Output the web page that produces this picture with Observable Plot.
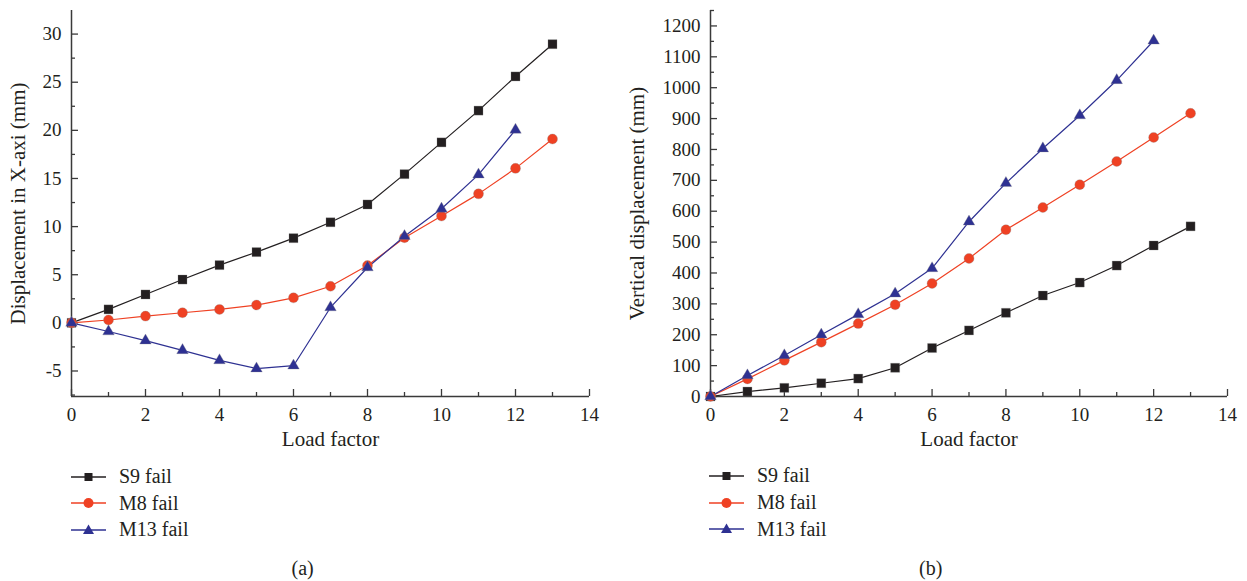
<!DOCTYPE html>
<html><head><meta charset="utf-8">
<script src="https://cdn.jsdelivr.net/npm/d3@7"></script>
<script src="https://cdn.jsdelivr.net/npm/@observablehq/plot@0.6"></script>
<style>
body{margin:0;background:#fff;}
#root{position:relative;width:1247px;height:581px;overflow:hidden;font-family:"Liberation Serif","Times New Roman",Tinos,"DejaVu Serif","Noto Serif",serif;color:#231f20;}
#root svg text{font-family:"Liberation Serif","Times New Roman",Tinos,"DejaVu Serif","Noto Serif",serif;}
.panel{position:absolute;top:0;}
.row{position:absolute;display:flex;align-items:center;font-size:20px;white-space:nowrap;height:26px;}
.row svg{display:block;margin-right:13px;}
.cap{position:absolute;font-size:20px;transform:translate(-50%,-50%);white-space:nowrap;}
</style></head><body><div id="root"></div>
<script>
// ---- data ----
const seriesNames = ["S9 fail", "M8 fail", "M13 fail"];
const seriesColors = ["#231f20", "#ef4123", "#2e3192"];
const seriesSymbols = ["square", "circle", "triangle"];
const loadFactor = [0,1,2,3,4,5,6,7,8,9,10,11,12,13];
// (a) displacement in X-axis (mm)
const s9X  = [0, 1.4, 2.95, 4.5, 6.0, 7.35, 8.8, 10.45, 12.3, 15.45, 18.75, 22.05, 25.6, 28.95];
const m8X  = [0, 0.3, 0.7, 1.05, 1.4, 1.85, 2.6, 3.8, 5.95, 8.85, 11.1, 13.4, 16.05, 19.1];
const m13X = [0, -0.9, -1.85, -2.85, -3.9, -4.75, -4.45, 1.6, 5.75, 9.0, 11.85, 15.4, 20.05];
// (b) vertical displacement (mm)
const s9V  = [0, 16, 28, 43, 58, 93, 157, 214, 271, 327, 369, 424, 489, 551];
const m8V  = [0, 57, 117, 176, 236, 297, 366, 447, 540, 612, 686, 761, 839, 917];
const m13V = [0, 68, 133, 200, 266, 333, 415, 566, 691, 803, 910, 1024, 1152];
// ticks
const xMajor = [0,2,4,6,8,10,12,14];
const xMinor = [1,3,5,7,9,11,13];
const yMajorA = [-5,0,5,10,15,20,25,30];
const yMinorA = [-7.5,-2.5,2.5,7.5,12.5,17.5,22.5,27.5];
const yMajorB = [0,100,200,300,400,500,600,700,800,900,1000,1100,1200];
const yMinorB = [50,150,250,350,450,550,650,750,850,950,1050,1150,1250];
const xLabel = "Load factor";
const yLabelA = "Displacement in X-axi (mm)";
const yLabelB = "Vertical displacement (mm)";
const xDomain = [0, 14];
const yDomainA = [-7.65, 32.45];
const yDomainB = [0, 1250];

function rowsOf(lists) {
  const out = [];
  lists.forEach((vals, i) => vals.forEach((v, j) => out.push({series: seriesNames[i], x: loadFactor[j], y: v})));
  return out;
}

const ink = "#231f20";
const axisInk = "#3a3a3a";
const serif = '"Liberation Serif","Times New Roman",Tinos,"DejaVu Serif","Noto Serif",serif';
const fmt = d => String(d);

function panel({rows, yDomain, yMajor, yMinor, yLabel, width, marginLeft, marginRight, yLabelDx}) {
  const dotR = {"S9 fail": 5.1, "M8 fail": 5, "M13 fail": 4.3};
  return Plot.plot({
    width, height: 450,
    marginLeft, marginRight, marginTop: 10, marginBottom: 54,
    style: {fontFamily: serif, fontSize: "19px", color: ink, background: "transparent", overflow: "visible"},
    x: {domain: xDomain, label: null},
    y: {domain: yDomain, label: null},
    color: {domain: seriesNames, range: seriesColors},
    symbol: {domain: seriesNames, range: seriesSymbols},
    marks: [
      Plot.axisX({ticks: xMajor, tickSize: 0, tickPadding: 11, tickFormat: fmt, label: null, fill: ink}),
      Plot.axisX({ticks: xMajor, tickSize: -7, tickFormat: () => "", label: null, stroke: axisInk, strokeWidth: 1.3}),
      Plot.axisX({ticks: xMinor, tickSize: -4, tickFormat: () => "", label: null, stroke: axisInk, strokeWidth: 1.3}),
      Plot.axisY({ticks: yMajor, tickSize: 0, tickPadding: 10, tickFormat: fmt, label: null, fill: ink}),
      Plot.axisY({ticks: yMajor, tickSize: -7, tickFormat: () => "", label: null, stroke: axisInk, strokeWidth: 1.3}),
      Plot.axisY({ticks: yMinor, tickSize: -4, tickFormat: () => "", label: null, stroke: axisInk, strokeWidth: 1.3}),
      Plot.ruleY([yDomain[0]], {stroke: axisInk, strokeWidth: 1.5}),
      Plot.ruleX([xDomain[0]], {stroke: axisInk, strokeWidth: 1.5}),
      Plot.text([xLabel], {frameAnchor: "bottom", dy: 49, fontSize: 21, fill: ink, textAnchor: "middle"}),
      Plot.text([yLabel], {frameAnchor: "left", dx: yLabelDx, rotate: -90, fontSize: 21, fill: ink, textAnchor: "middle", lineAnchor: "middle"}),
      Plot.line(rows, {x: "x", y: "y", z: "series", stroke: "series", strokeWidth: 1.2}),
      ...seriesNames.map(s => Plot.dot(rows, {filter: d => d.series === s, x: "x", y: "y", symbol: "series", fill: "series", stroke: "#888", strokeWidth: 0.3, r: dotR[s]}))
    ]
  });
}

const root = document.getElementById("root");

const left = panel({rows: rowsOf([s9X, m8X, m13X]), yDomain: yDomainA, yMajor: yMajorA, yMinor: yMinorA, yLabel: yLabelA,
  width: 620, marginLeft: 71, marginRight: 31, yLabelDx: -53});
left.classList.add("panel"); left.style.left = "0px";
root.appendChild(left);

const right = panel({rows: rowsOf([s9V, m8V, m13V]), yDomain: yDomainB, yMajor: yMajorB, yMinor: yMinorB, yLabel: yLabelB,
  width: 627, marginLeft: 90, marginRight: 20, yLabelDx: -73});
right.classList.add("panel"); right.style.left = "620px";
root.appendChild(right);

function swatch(i) {
  const c = seriesColors[i];
  let m;
  if (seriesSymbols[i] === "square") m = `<rect x="13.5" y="3" width="8" height="8" fill="${c}"/>`;
  else if (seriesSymbols[i] === "circle") m = `<circle cx="17.5" cy="7" r="5" fill="${c}"/>`;
  else m = `<path d="M17.5,1.5 L23,11 L12,11 Z" fill="${c}"/>`;
  return `<svg width="35" height="14" viewBox="0 0 35 14"><line x1="0" x2="35" y1="7" y2="7" stroke="${c}" stroke-width="1.3"/>${m}</svg>`;
}
function legend(x, ys) {
  seriesNames.forEach((s, i) => {
    const d = document.createElement("div");
    d.className = "row";
    d.style.left = x + "px";
    d.style.top = (ys[i] - 13) + "px";
    d.innerHTML = swatch(i) + `<span>${s}</span>`;
    root.appendChild(d);
  });
}
legend(71, [476.5, 503.2, 529.8]);
legend(709, [475.5, 502.5, 529]);

function caption(t, x, y) {
  const d = document.createElement("div");
  d.className = "cap"; d.textContent = t;
  d.style.left = x + "px"; d.style.top = y + "px";
  root.appendChild(d);
}
caption("(a)", 302.7, 568);
caption("(b)", 930.7, 568);
</script></body></html>
